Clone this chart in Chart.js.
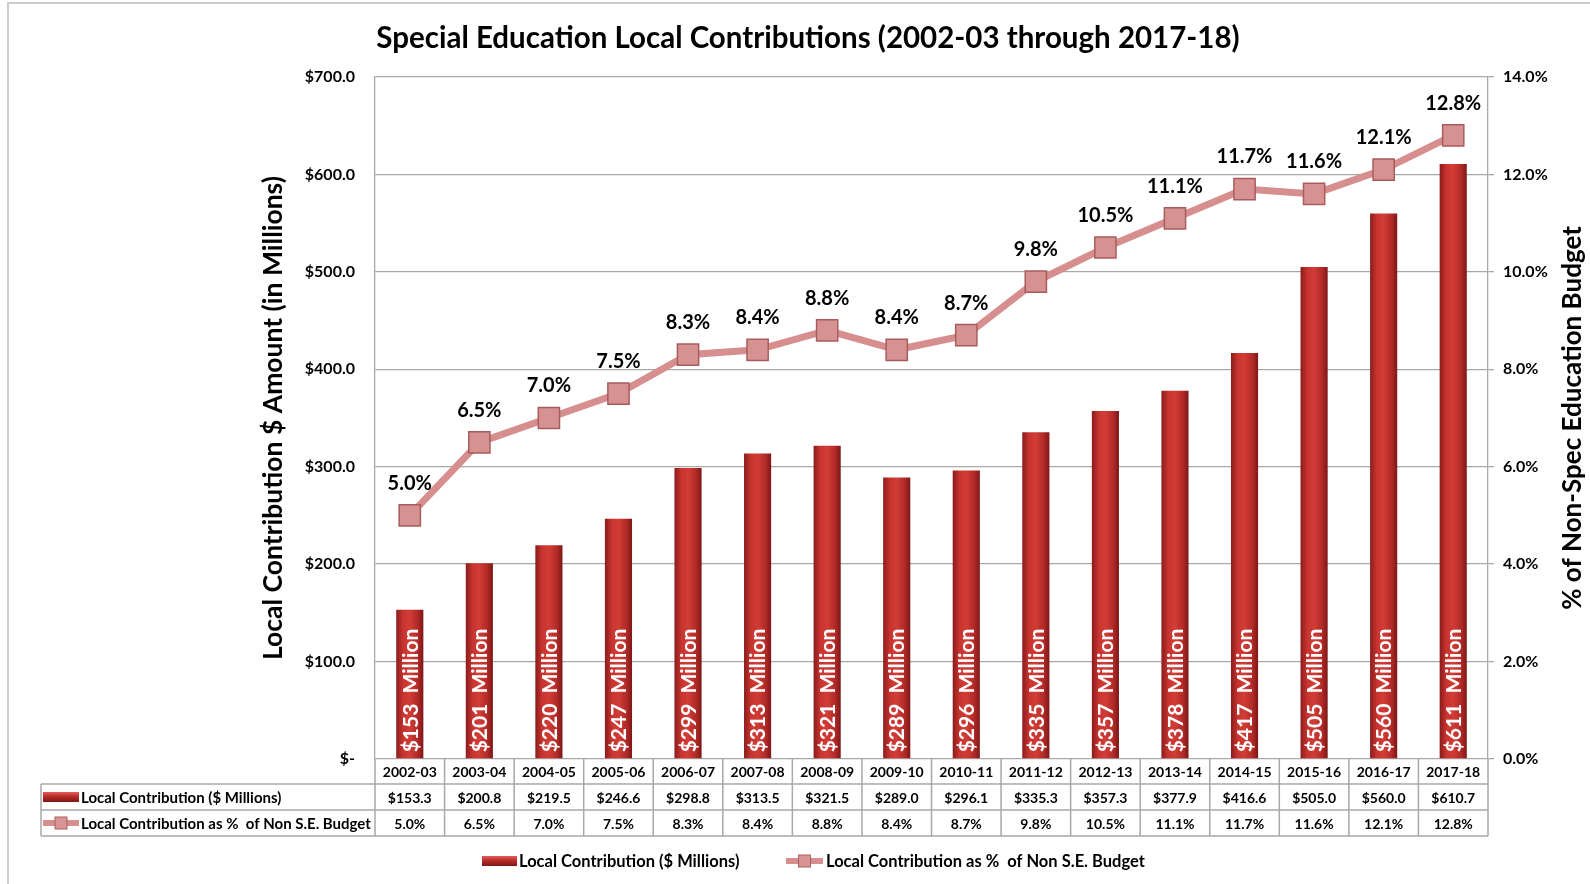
<!DOCTYPE html>
<html>
<head>
<meta charset="utf-8">
<script src="https://cdn.jsdelivr.net/npm/chart.js@4.4.0/dist/chart.umd.min.js"></script>
<style>
  html, body { margin: 0; padding: 0; background: #fff; }
  #wrap { width: 1590px; height: 884px; }
</style>
</head>
<body>
<div id="wrap"><canvas id="chart" width="1590" height="884"></canvas></div>
<script>
// data ($ millions; in-bar labels in the original round 2007-08 / 2008-09 down)
const years = ['2002-03', '2003-04', '2004-05', '2005-06', '2006-07', '2007-08', '2008-09', '2009-10',
    '2010-11', '2011-12', '2012-13', '2013-14', '2014-15', '2015-16', '2016-17', '2017-18'];
const localMillions = [153.3, 200.8, 219.5, 246.6, 298.8, 313.46, 321.46, 289.0,
    296.1, 335.3, 357.3, 377.9, 416.6, 505.0, 560.0, 610.7];
const pctNonSE = [5.0, 6.5, 7.0, 7.5, 8.3, 8.4, 8.8, 8.4,
    8.7, 9.8, 10.5, 11.1, 11.7, 11.6, 12.1, 12.8];
const barLabel = 'Local Contribution ($ Millions)';
const lineLabel = 'Local Contribution as %  of Non S.E. Budget';

const FONT = 'Lato';
const gridGray = '#a8a8a8';
const lineColor = '#d68f8e';

function barGradient(c, x, half) {
    const g = c.createLinearGradient(x - half, 0, x + half, 0);
    g.addColorStop(0, '#8a1c1c');
    g.addColorStop(0.25, '#c8342f');
    g.addColorStop(0.5, '#d23c36');
    g.addColorStop(0.8, '#b02a27');
    g.addColorStop(1, '#7e1717');
    return g;
}

function drawLineSwatch(c, x0, x1, y) {
    c.save();
    c.strokeStyle = lineColor;
    c.lineWidth = 6;
    c.beginPath(); c.moveTo(x0, y); c.lineTo(x1, y); c.stroke();
    const m = (x0 + x1) / 2;
    c.fillStyle = '#d99595';
    c.strokeStyle = '#aa6060';
    c.lineWidth = 1;
    c.fillRect(m - 6, y - 6, 12, 12);
    c.strokeRect(m - 6, y - 6, 12, 12);
    c.restore();
}

function drawBarSwatch(c, x0, x1, y) {
    c.save();
    const g = c.createLinearGradient(0, y - 5, 0, y + 5);
    g.addColorStop(0, '#e06060');
    g.addColorStop(0.4, '#c0302c');
    g.addColorStop(1, '#7e1717');
    c.fillStyle = g;
    c.fillRect(x0, y - 5, x1 - x0, 10);
    c.restore();
}

const extras = {
    id: 'extras',
    beforeDraw(chart) {
        const c = chart.ctx;
        c.save();
        c.fillStyle = '#fff';
        c.fillRect(0, 0, chart.width, chart.height);
        c.strokeStyle = '#cccccc';
        c.lineWidth = 2;
        c.beginPath();
        c.moveTo(8, 884); c.lineTo(8, 3); c.lineTo(1590, 3);
        c.stroke();
        c.restore();
    },
    afterDatasetsDraw(chart) {
        const c = chart.ctx;
        c.save();
        // bar labels inside bars
        const bars = chart.getDatasetMeta(0).data;
        c.fillStyle = '#fff';
        c.font = 'bold 21px ' + FONT;
        c.textAlign = 'left';
        c.textBaseline = 'middle';
        bars.forEach((b, i) => {
            c.save();
            c.translate(b.x + 1, b.base - 6);
            c.rotate(-Math.PI / 2);
            c.fillText('$' + Math.round(localMillions[i]) + '  Million', 0, 0);
            c.restore();
        });
        // line labels
        const pts = chart.getDatasetMeta(1).data;
        c.fillStyle = '#000';
        c.font = 'bold 20px ' + FONT;
        c.textAlign = 'center';
        pts.forEach((p, i) => {
            c.fillText(pctNonSE[i].toFixed(1) + '%', p.x, p.y - 32);
        });
        c.restore();
    },
    afterDraw(chart) {
        const c = chart.ctx;
        const area = chart.chartArea;
        const xs = chart.scales.x;
        const w = xs.getPixelForValue(1) - xs.getPixelForValue(0);
        c.save();
        // title
        c.fillStyle = '#000';
        c.font = 'bold 29.5px ' + FONT;
        c.textAlign = 'center';
        c.textBaseline = 'middle';
        c.fillText('Special Education Local Contributions (2002-03 through 2017-18)', 808, 38);

        // right axis title, reading upward
        c.save();
        c.translate(1573, (area.top + area.bottom) / 2);
        c.rotate(-Math.PI / 2);
        c.font = 'bold 26px ' + FONT;
        c.fillText('% of Non-Spec Education Budget', 0, 0);
        c.restore();

        // data table
        const tableLeft = 41;
        const r0 = area.bottom, r1 = 784, r2 = 810, r3 = 836;
        c.strokeStyle = gridGray;
        c.lineWidth = 1.5;
        c.beginPath();
        [r1, r2, r3].forEach(y => { c.moveTo(tableLeft, y); c.lineTo(area.right, y); });
        c.moveTo(tableLeft, r1); c.lineTo(tableLeft, r3);
        for (let i = 0; i <= years.length; i++) {
            const x = area.left + i * w;
            c.moveTo(x, r0); c.lineTo(x, r3);
        }
        c.stroke();

        c.font = 'bold 14px ' + FONT;
        c.fillStyle = '#000';
        years.forEach((y, i) => {
            const x = xs.getPixelForValue(i);
            c.fillText(y, x, (r0 + r1) / 2 + 1);
            c.fillText('$' + localMillions[i].toFixed(1), x, (r1 + r2) / 2 + 1);
            c.fillText(pctNonSE[i].toFixed(1) + '%', x, (r2 + r3) / 2 + 1);
        });
        c.textAlign = 'left';
        c.font = 'bold 15px ' + FONT;
        drawBarSwatch(c, 43, 79, (r1 + r2) / 2);
        c.fillStyle = '#000';
        c.fillText(barLabel, 81, (r1 + r2) / 2 + 1);
        drawLineSwatch(c, 43, 79, (r2 + r3) / 2);
        c.fillStyle = '#000';
        c.fillText(lineLabel, 81, (r2 + r3) / 2 + 1);

        // legend
        const ly = 861;
        c.font = 'bold 16.5px ' + FONT;
        drawBarSwatch(c, 482, 517, ly);
        c.fillStyle = '#000';
        c.fillText(barLabel, 519, ly + 1);
        drawLineSwatch(c, 786, 823, ly);
        c.fillStyle = '#000';
        c.fillText(lineLabel, 826, ly + 1);
        c.restore();
    }
};

const ctx = document.getElementById('chart').getContext('2d');
const chart = new Chart(ctx, {
    type: 'bar',
    data: {
        labels: years,
        datasets: [{
            type: 'bar',
            label: barLabel,
            data: localMillions,
            yAxisID: 'y',
            order: 2,
            barPercentage: 0.39,
            categoryPercentage: 1,
            backgroundColor: function (context) {
                const ch = context.chart;
                if (!ch.chartArea) return '#c0302c';
                const x = ch.scales.x.getPixelForValue(context.dataIndex);
                return barGradient(ch.ctx, x, 13.5);
            },
            borderWidth: 0
        }, {
            type: 'line',
            label: lineLabel,
            data: pctNonSE,
            yAxisID: 'y1',
            order: 1,
            borderColor: lineColor,
            borderWidth: 7,
            tension: 0,
            pointStyle: 'rect',
            pointRadius: 15,
            pointHoverRadius: 15,
            pointBackgroundColor: '#d69191',
            pointBorderColor: '#a85c5c',
            pointBorderWidth: 1.5
        }]
    },
    options: {
        responsive: false,
        animation: false,
        layout: { padding: { top: 77, bottom: 125, left: 0, right: 0 } },
        plugins: {
            legend: { display: false },
            tooltip: { enabled: false },
            title: { display: false }
        },
        scales: {
            x: {
                display: false,
                offset: true
            },
            y: {
                position: 'left',
                min: 0,
                max: 700,
                ticks: {
                    stepSize: 100,
                    padding: 20,
                    color: '#000',
                    font: { family: FONT, weight: 'bold', size: 16 },
                    callback: function (value) {
                        return value === 0 ? '$-' : '$' + value.toFixed(1);
                    }
                },
                grid: { color: gridGray, lineWidth: 1.3, drawTicks: false },
                border: { color: gridGray, width: 1.3 },
                title: {
                    display: true,
                    text: 'Local Contribution $ Amount (in Millions)',
                    color: '#000',
                    font: { family: FONT, weight: 'bold', size: 26.5 },
                    padding: { top: 258, bottom: 0 }
                },
                afterFit: function (scale) { scale.width = 375; }
            },
            y1: {
                position: 'right',
                min: 0,
                max: 14,
                ticks: {
                    stepSize: 2,
                    padding: 9,
                    color: '#000',
                    font: { family: FONT, weight: 'bold', size: 16 },
                    callback: function (value) { return value.toFixed(1) + '%'; }
                },
                grid: { drawOnChartArea: false, drawTicks: true, tickLength: 6, color: gridGray, lineWidth: 1.3 },
                border: { color: gridGray, width: 1.3 },
                afterFit: function (scale) { scale.width = 102; }
            }
        }
    },
    plugins: [extras]
});
</script>
</body>
</html>
